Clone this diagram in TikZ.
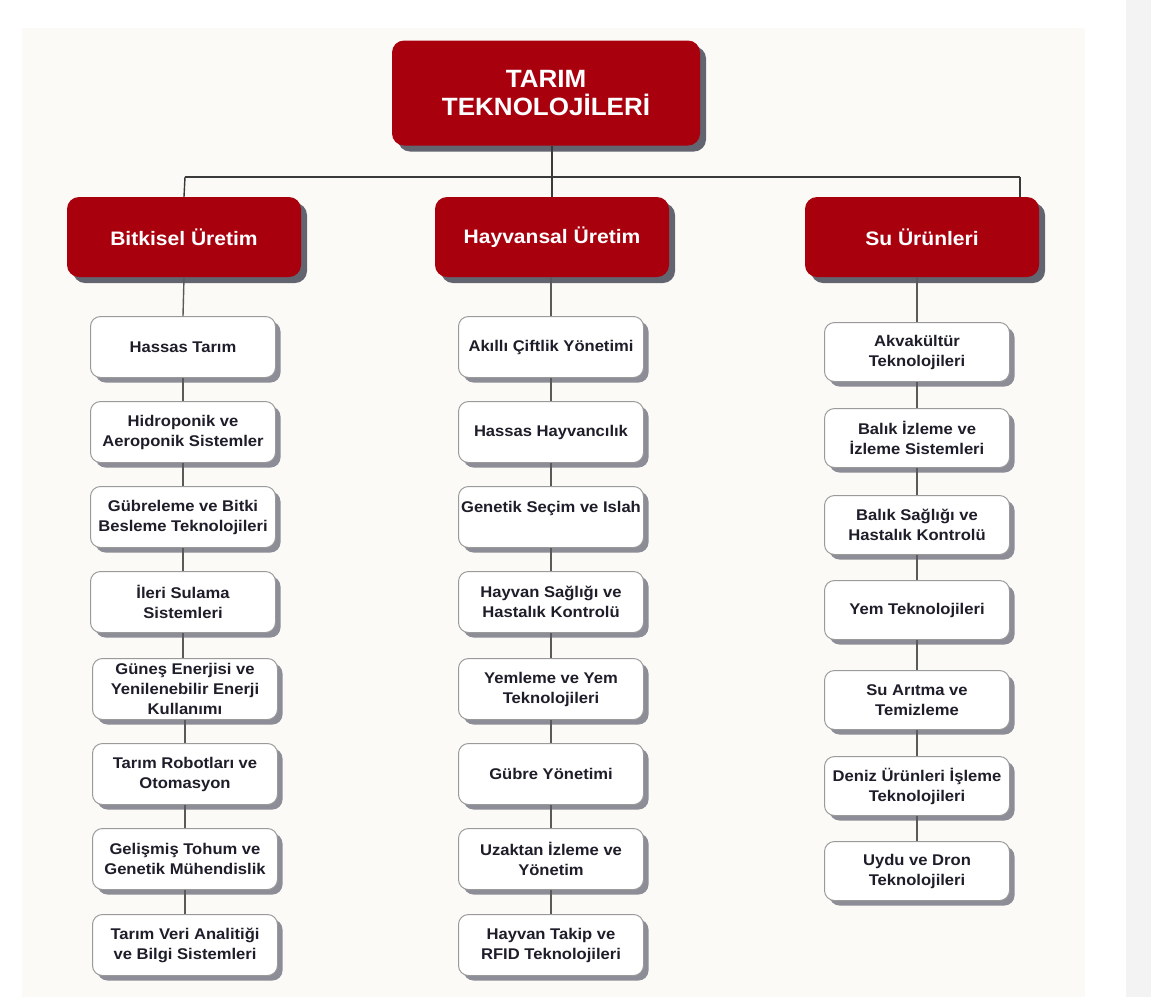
\documentclass[tikz,border=0pt]{standalone}
\usepackage{fontspec}
\setmainfont{Liberation Sans}
\newfontfamily\leaffont[FakeStretch=1.07]{Liberation Sans}
\newfontfamily\catfont[FakeStretch=1.08]{Liberation Sans}
\newfontfamily\topfont[FakeStretch=1.04]{Liberation Sans}
\usetikzlibrary{shadows}
\definecolor{redbox}{HTML}{A9000E}
\definecolor{redshadow}{HTML}{62646F}
\definecolor{leafshadow}{HTML}{8C8D96}
\definecolor{leafborder}{HTML}{9A9A9A}
\definecolor{leaftext}{HTML}{1E1E2A}
\definecolor{linegrey}{HTML}{5A5A5A}
\definecolor{busline}{HTML}{3A3A3A}
\definecolor{bgcream}{HTML}{FCFAF6}
\definecolor{stripgrey}{HTML}{F3F3F3}
\tikzset{
  topbox/.style={rounded corners=12pt, fill=redbox, draw=none, text=white,
    minimum width=308pt, minimum height=105pt, align=center,
    font=\topfont\fontsize{25}{28}\selectfont\bfseries,
    drop shadow={shadow xshift=6pt, shadow yshift=-6pt, fill=redshadow, opacity=1}},
  catbox/.style={rounded corners=12pt, fill=redbox, draw=none, text=white,
    minimum width=234pt, minimum height=80pt, align=center,
    font=\catfont\fontsize{19.5}{22}\selectfont\bfseries,
    drop shadow={shadow xshift=6pt, shadow yshift=-6pt, fill=redshadow, opacity=1}},
  leaf/.style={rounded corners=10pt, fill=white, draw=leafborder, line width=1pt,
    text=leaftext, minimum width=185pt, minimum height=61pt, align=center,
    inner sep=1pt, font=\leaffont\fontsize{15.5}{20}\selectfont\bfseries,
    drop shadow={shadow xshift=5pt, shadow yshift=-5pt, fill=leafshadow, opacity=1}},
  conn/.style={draw=linegrey, line width=1.4pt},
  bus/.style={draw=busline, line width=1.4pt}
}
\begin{document}
\begin{tikzpicture}[x=1pt,y=-1pt]
\useasboundingbox (0,0) rectangle (1151,997);
\fill[white] (0,0) rectangle (1151,997);
\fill[bgcream] (22,28) rectangle (1085,997);
\fill[stripgrey] (1126,0) rectangle (1151,997);

% bus
\coordinate (busL) at (185,177);
\coordinate (busR) at (1020,177);

% top
\node[topbox] (top) at (546,93) {TARIM\\TEKNOLOJİLERİ};

% categories
\node[catbox] (bit) at (184,237) {Bitkisel Üretim};
\node[catbox] (hay) at (552,237) {Hayvansal Üretim};
\node[catbox] (su)  at (922,237) {Su Ürünleri};

% left column
\node[leaf] (b1) at (183,347) {Hassas Tarım};
\node[leaf] (b2) at (183,432) {Hidroponik ve\\Aeroponik Sistemler};
\node[leaf] (b3) at (183,517) {Gübreleme ve Bitki\\Besleme Teknolojileri};
\node[leaf] (b4) at (183,602) {İleri Sulama\\Sistemleri};
\node[leaf] (b5) at (185,689) {Güneş Enerjisi ve\\Yenilenebilir Enerji\\Kullanımı};
\node[leaf] (b6) at (185,774) {Tarım Robotları ve\\Otomasyon};
\node[leaf] (b7) at (185,859) {Gelişmiş Tohum ve\\Genetik Mühendislik};
\node[leaf] (b8) at (185,945) {Tarım Veri Analitiği\\ve Bilgi Sistemleri};

% middle column
\node[leaf] (h1) at (551,347) {Akıllı Çiftlik Yönetimi};
\node[leaf] (h2) at (551,432) {Hassas Hayvancılık};
\node[leaf] (h3) at (551,517) {Genetik Seçim ve Islah\\\mbox{}};
\node[leaf] (h4) at (551,602) {Hayvan Sağlığı ve\\Hastalık Kontrolü};
\node[leaf] (h5) at (551,689) {Yemleme ve Yem\\Teknolojileri};
\node[leaf] (h6) at (551,774) {Gübre Yönetimi};
\node[leaf] (h7) at (551,859) {Uzaktan İzleme ve\\Yönetim};
\node[leaf] (h8) at (551,945) {Hayvan Takip ve\\RFID Teknolojileri};

% right column
\node[leaf, minimum height=59pt] (s1) at (917,352) {Akvakültür\\Teknolojileri};
\node[leaf, minimum height=59pt] (s2) at (917,438) {Balık İzleme ve\\İzleme Sistemleri};
\node[leaf, minimum height=59pt] (s3) at (917,525) {Balık Sağlığı ve\\Hastalık Kontrolü};
\node[leaf, minimum height=59pt] (s4) at (917,610) {Yem Teknolojileri};
\node[leaf, minimum height=59pt] (s5) at (917,700) {Su Arıtma ve\\Temizleme};
\node[leaf, minimum height=59pt] (s6) at (917,786) {Deniz Ürünleri İşleme\\Teknolojileri};
\node[leaf, minimum height=59pt] (s7) at (917,871) {Uydu ve Dron\\Teknolojileri};

% connectors
\draw[bus] (busL) -- (busR);
\draw[bus] (top.south -| hay.north) -- (hay.north);
\draw[bus] (busL) -- (bit.north);
\draw[bus] (busR) -- (busR |- su.north);

\draw[conn] (bit.south) -- (b1.north);
\draw[conn] (b1.south) -- (b2.north);
\draw[conn] (b2.south) -- (b3.north);
\draw[conn] (b3.south) -- (b4.north);
\draw[conn] (b4.south) -- (b4.south |- b5.north);
\draw[conn] (b5.south) -- (b6.north);
\draw[conn] (b6.south) -- (b7.north);
\draw[conn] (b7.south) -- (b8.north);

\draw[conn] (hay.south -| h1.north) -- (h1.north);
\draw[conn] (h1.south) -- (h2.north);
\draw[conn] (h2.south) -- (h3.north);
\draw[conn] (h3.south) -- (h4.north);
\draw[conn] (h4.south) -- (h5.north);
\draw[conn] (h5.south) -- (h6.north);
\draw[conn] (h6.south) -- (h7.north);
\draw[conn] (h7.south) -- (h8.north);

\draw[conn] (su.south -| s1.north) -- (s1.north);
\draw[conn] (s1.south) -- (s2.north);
\draw[conn] (s2.south) -- (s3.north);
\draw[conn] (s3.south) -- (s4.north);
\draw[conn] (s4.south) -- (s5.north);
\draw[conn] (s5.south) -- (s6.north);
\draw[conn] (s6.south) -- (s7.north);
\end{tikzpicture}
\end{document}
